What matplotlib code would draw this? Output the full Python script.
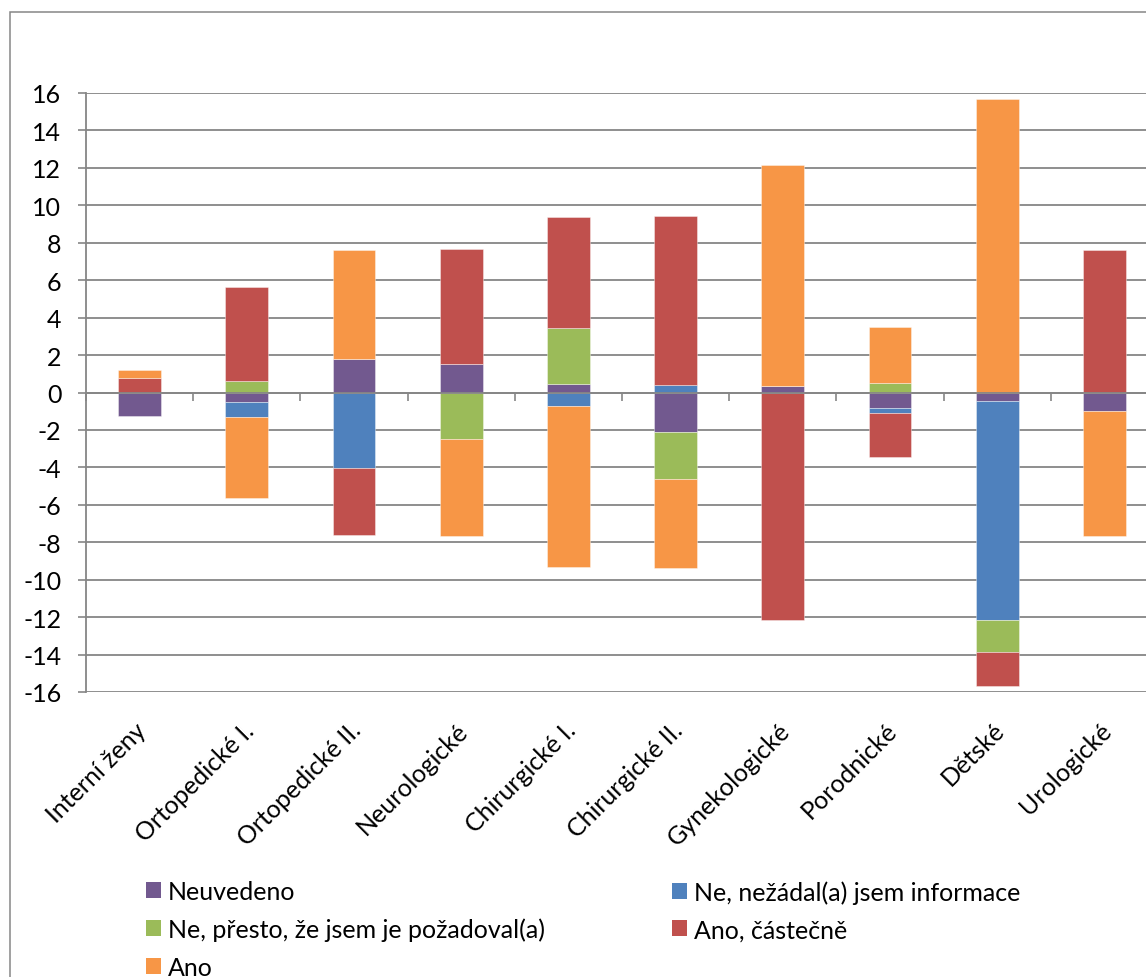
import matplotlib
matplotlib.use('Agg')
import matplotlib.pyplot as plt
import matplotlib.transforms as mtransforms
from matplotlib.patches import Rectangle, Patch
import numpy as np

# departments (x axis)
categories = ['Interní ženy', 'Ortopedické I.', 'Ortopedické II.', 'Neurologické',
              'Chirurgické I.', 'Chirurgické II.', 'Gynekologické', 'Porodnické',
              'Dětské', 'Urologické']

# series values (stacked, positive up / negative down)
neuvedeno = [-1.23, -0.51, 1.77, 1.52, 0.48, -2.10, 0.37, -0.84, -0.46, -1.01]
nezadal = [0.0, -0.79, -4.04, 0.0, -0.71, 0.41, 0.0, -0.23, -11.67, 0.0]
presto = [0.0, 0.59, 0.0, -2.47, 2.98, -2.53, 0.0, 0.50, -1.71, 0.0]
castecne = [0.80, 5.06, -3.55, 6.14, 5.89, 9.00, -12.13, -2.39, -1.85, 7.63]
ano = [0.41, -4.36, 5.82, -5.19, -8.62, -4.76, 11.76, 2.98, 15.70, -6.63]

series_names = ['Neuvedeno', 'Ne, nežádal(a) jsem informace',
                'Ne, přesto, že jsem je požadoval(a)', 'Ano, částečně', 'Ano']
series_vals = [neuvedeno, nezadal, presto, castecne, ano]
colors = ['#72598F', '#4F81BD', '#9BBB59', '#C0504D', '#F79646']

plt.rcParams['font.family'] = ['Lato', 'DejaVu Sans']
plt.rcParams['axes.unicode_minus'] = False
fs = 18
grey = '#868686'

W, H = 1146, 978
fig = plt.figure(figsize=(W / 100, H / 100), dpi=100)

# chart area frame
fig.patches.append(Rectangle((9.5 / W, -0.1), 1.2, (H - 12.7) / H + 0.1,
                             transform=fig.transFigure, fill=False,
                             edgecolor=grey, linewidth=1.1))

ax = fig.add_axes([86 / W, (H - 693) / H, 1072 / W, 599 / H])

x = np.arange(len(categories))
pos_bottom = np.zeros(len(categories))
neg_bottom = np.zeros(len(categories))
for name, vals, c in zip(series_names, series_vals, colors):
    v = np.array(vals)
    bottoms = np.where(v >= 0, pos_bottom, neg_bottom)
    ax.bar(x, v, 0.40, bottom=bottoms, color=c, edgecolor=(1, 1, 1, 0.45),
           linewidth=0.6, zorder=1)
    pos_bottom += np.where(v > 0, v, 0)
    neg_bottom += np.where(v < 0, v, 0)

ax.set_xlim(-0.5, len(categories) - 0.5)
ax.set_ylim(-16, 16)
ax.set_yticks(np.arange(-16, 17, 2))
ax.yaxis.grid(True, color=grey, linewidth=1.3)
ax.set_axisbelow(True)

for s in ['top', 'right']:
    ax.spines[s].set_visible(False)
ax.spines['left'].set_color(grey)
ax.spines['left'].set_linewidth(1.3)
ax.spines['bottom'].set_position(('data', 0))
ax.spines['bottom'].set_color(grey)
ax.spines['bottom'].set_linewidth(1.3)
ax.spines['bottom'].set_zorder(3)

ax.set_xticks(np.arange(-0.5, len(categories), 1.0))
ax.set_xticklabels([])
ax.tick_params(axis='x', length=5.8, width=1.2, color=grey, direction='out')
ax.tick_params(axis='y', length=5.8, width=1.2, color=grey, direction='out',
               labelsize=fs, pad=12)

# category labels below the plot
trans = mtransforms.blended_transform_factory(ax.transData, fig.transFigure)
for i, lab in enumerate(categories):
    ax.text(i + 0.03, (H - 727) / H, lab, transform=trans, rotation=45,
            rotation_mode='anchor', ha='right', va='center', fontsize=fs)

# legend in two columns
handles = [Patch(facecolor=c, edgecolor='none') for c in colors]
col1 = [0, 2, 4]
col2 = [1, 3]
for idx, x0 in [(col1, 146), (col2, 672)]:
    leg = fig.legend([handles[i] for i in idx], [series_names[i] for i in idx],
                     loc='upper left', bbox_to_anchor=(x0 / W, (H - 881) / H),
                     frameon=False, fontsize=fs, handlelength=0.58, handleheight=0.58,
                     handletextpad=0.3, labelspacing=0.58, borderpad=0,
                     borderaxespad=0)

fig.savefig('out.png', dpi=100)
